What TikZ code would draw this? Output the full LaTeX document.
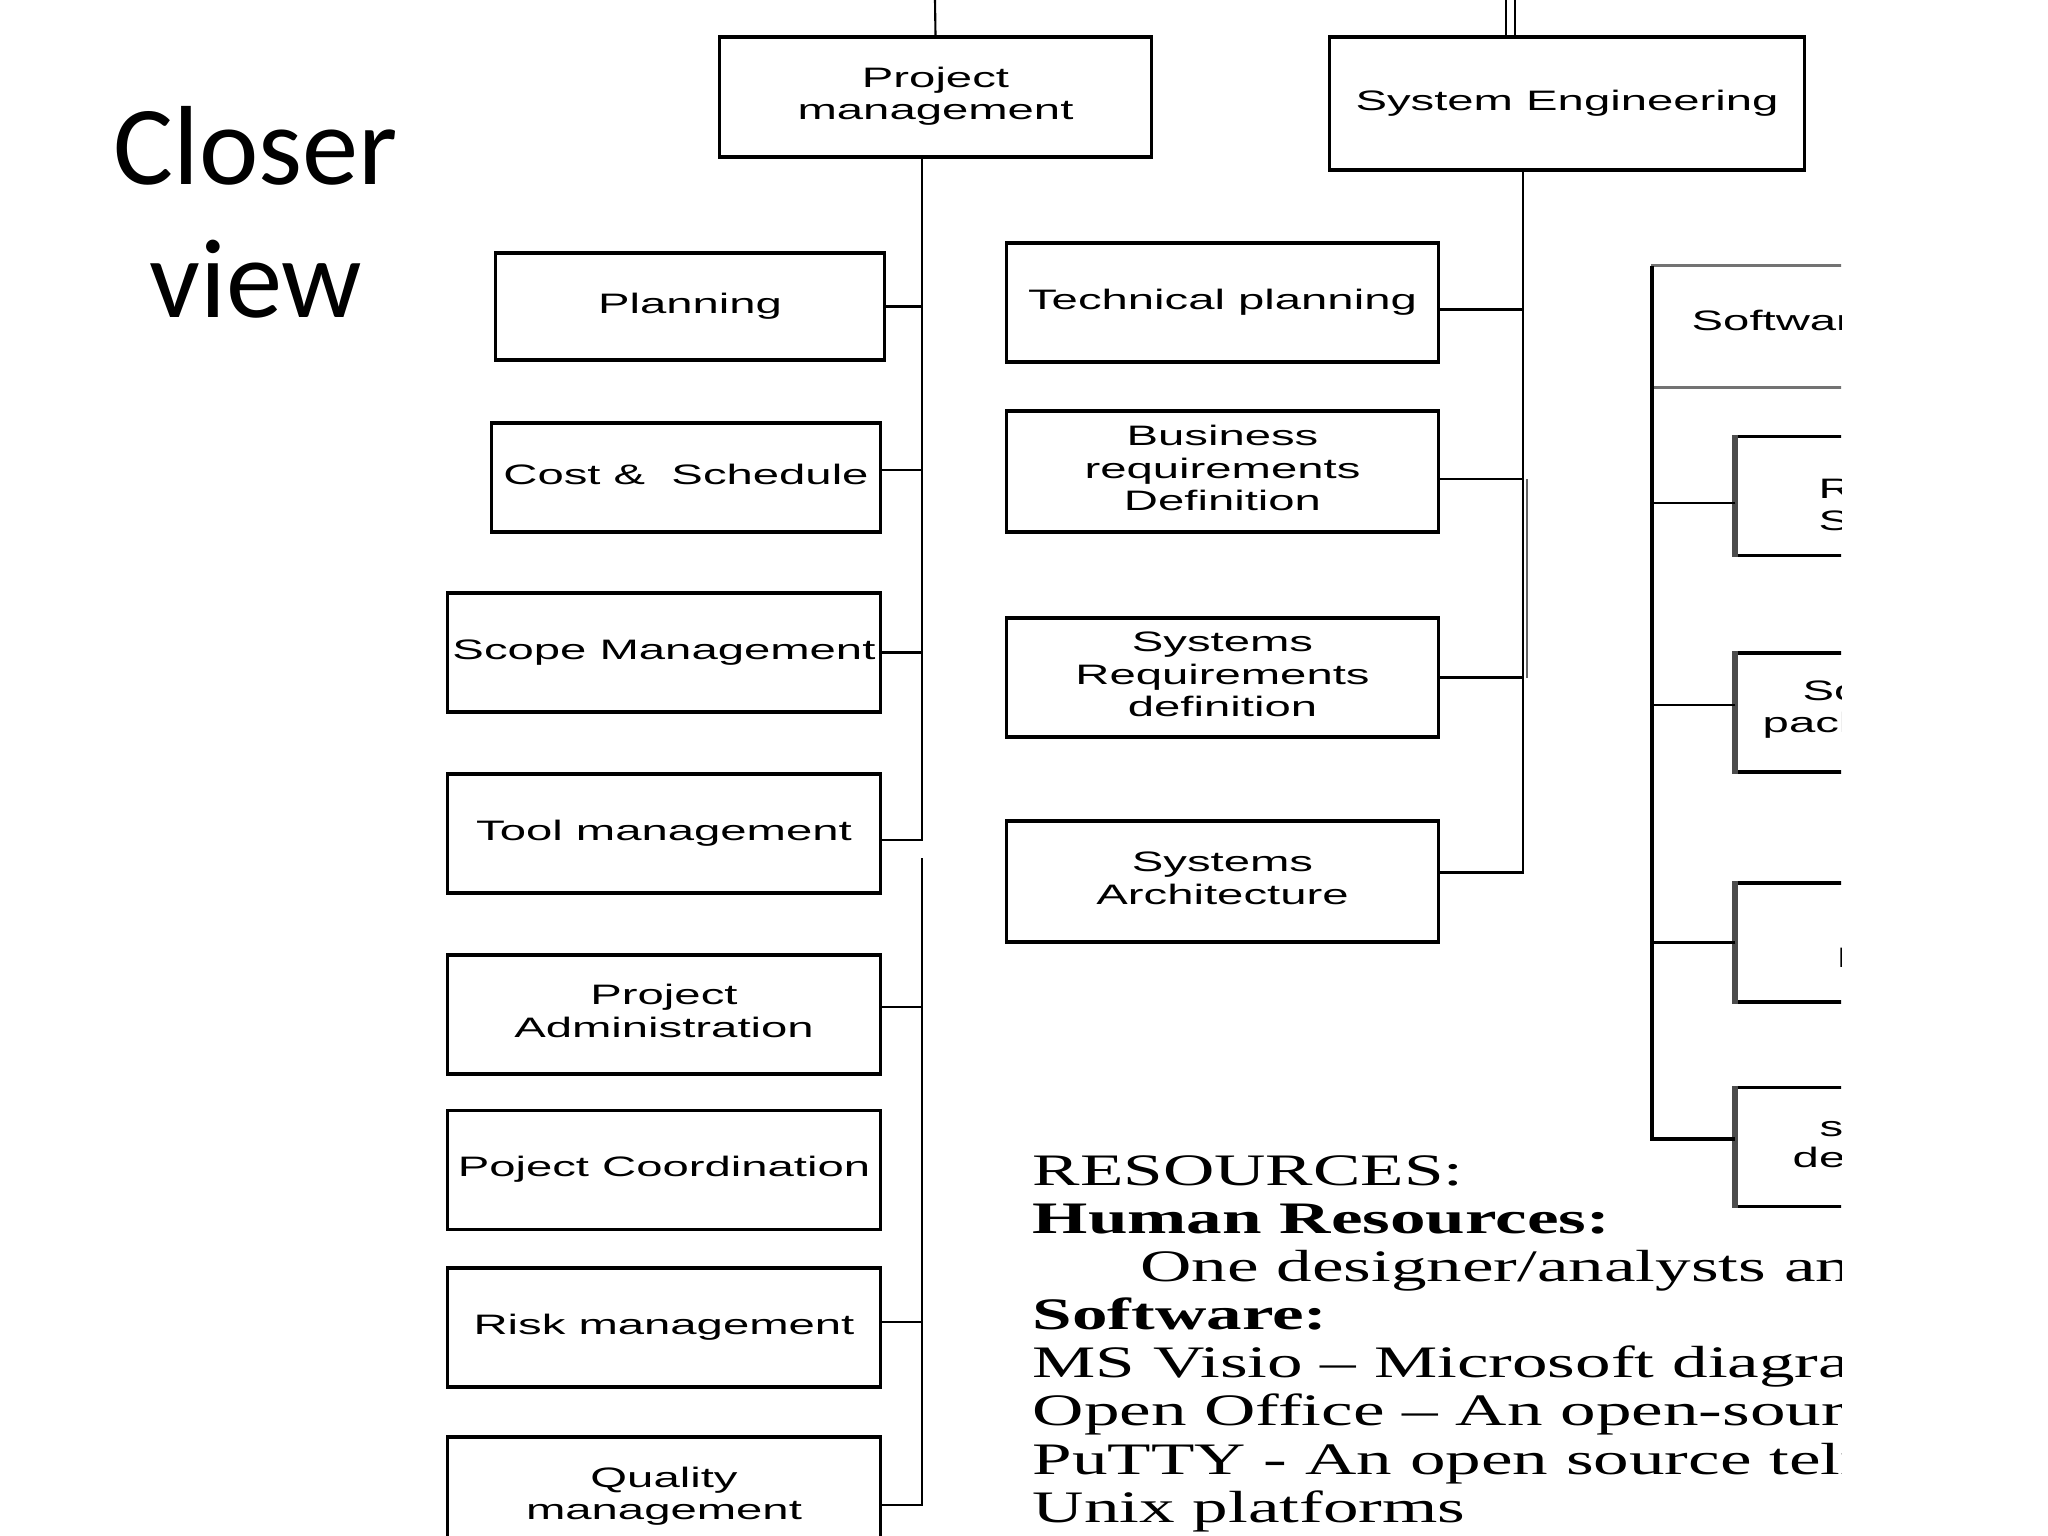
\documentclass[tikz,border=0pt]{standalone}
\usepackage{fontspec}
\usepackage{graphicx}
\setmainfont{Liberation Serif}
\newfontfamily\wbsfont{Liberation Sans}
\newfontfamily\slidefont{Carlito}
\newcommand\stretched[2][1.68]{\scalebox{#1}[1]{\begin{tabular}{@{}c@{}}#2\end{tabular}}}

\begin{document}
\begin{tikzpicture}[x=0.01cm,y=-0.01cm,
  wbs/.style={draw,line width=0.9pt,inner sep=0pt,
    minimum width=4.32cm,minimum height=1.19cm,
    font=\wbsfont\fontsize{8}{9.3}\selectfont},
  frag/.style={anchor=west,inner sep=0pt,font=\wbsfont\fontsize{8}{9.3}\selectfont},
  link/.style={line width=0.6pt}]
 \useasboundingbox (0,0) rectangle (2048,1536);
 \node[font=\slidefont\fontsize{32}{37.8}\selectfont,align=center]
    (title) at (256,212) {Closer\\view};
 \begin{scope}
 \clip (0,0) rectangle (1841,1536);
 % top level
 \node[wbs,minimum width=4.31cm,minimum height=1.20cm] (pm) at (935.5,97)
    {\stretched{Project\\management}};
 \node[wbs,minimum width=4.74cm,minimum height=1.33cm] (se) at (1567,103.5)
    {\stretched{System Engineering}};
 % project management column
 \node[wbs,minimum width=3.88cm,minimum height=1.07cm] (plan) at (690,306.5)
    {\stretched{Planning}};
 \node[wbs,minimum width=3.88cm,minimum height=1.09cm] (cost) at (686,477.5)
    {\stretched{Cost \&\ \ Schedule}};
 \node[wbs] (scope) at (664,652.5) {\stretched{Scope Management}};
 \node[wbs] (tool) at (664,833.5) {\stretched{Tool management}};
 \node[wbs] (admin) at (664,1014.5) {\stretched{Project\\Administration}};
 \node[wbs] (coord) at (664,1170) {\stretched{Poject Coordination}};
 \node[wbs] (risk) at (664,1327.5) {\stretched{Risk management}};
 \node[wbs,minimum height=1.20cm] (qual) at (664,1497)
    {\stretched{Quality\\management}};
 % system engineering column
 \node[wbs,minimum width=4.31cm] (tech) at (1222.5,302.5)
    {\stretched{Technical planning}};
 \node[wbs,minimum width=4.31cm,minimum height=1.21cm] (busi) at (1222.5,471.5)
    {\stretched{Business\\requirements\\Definition}};
 \node[wbs,minimum width=4.31cm] (sysreq) at (1222.5,677.5)
    {\stretched{Systems\\Requirements\\definition}};
 \node[wbs,minimum width=4.31cm,minimum height=1.21cm] (arch) at (1222.5,881.5)
    {\stretched{Systems\\Architecture}};
 % software column (cut off on the right)
 \node[minimum width=4.31cm,minimum height=1.21cm] (sw) at (1867.5,326.5) {};
 \draw[line width=0.8pt,black!55] (sw.north west) -- (sw.north east)
    (sw.south west) -- (sw.south east);
 \node[frag] (swtxt) at (1691,324) {\stretched{Software}};
 \node[wbs,minimum width=4.31cm] (rs) at (1952.5,496) {};
 \node[wbs,minimum width=4.31cm] (pk) at (1952.5,712.5) {};
 \node[wbs,minimum width=4.31cm] (ev) at (1952.5,942.5) {};
 \node[wbs,minimum width=4.31cm] (sd) at (1952.5,1147) {};
 \foreach \n in {rs,pk,ev,sd}
   \draw[line width=1.6pt,black!70] (\n.north west) -- (\n.south west);
 \node[frag] (rstxt1) at (1818,492) {\stretched{Requirements}};
 \node[frag] (rstxt2) at (1818,524) {\stretched{Specification}};
 \node[frag] (pktxt1) at (1802,694) {\stretched{Software}};
 \node[frag] (pktxt2) at (1762,726) {\stretched{packages}};
 \node[frag] (evtxt) at (1836,961) {\stretched{Evaluation}};
 \node[frag] (sdtxt1) at (1819,1130) {\stretched{software}};
 \node[frag] (sdtxt2) at (1792,1161) {\stretched{design}};
 % trunks
 \coordinate (pmtop) at (935,0);
 \coordinate (t1) at (922,157);
 \coordinate (t2) at (922,858);
 \coordinate (setopA) at (1506,0);
 \coordinate (setopB) at (1515,0);
 \coordinate (t3) at (1523,170);
 \coordinate (t4) at (1652,266);
 \draw[link] (pmtop) -- (pm.north);
 \draw[link] (setopA) -- (setopA |- se.north)
    (setopB) -- (setopB |- se.north);
 \draw[link] (t1) |- ([yshift=-0.65mm]tool.east);
 \draw[link] (plan.east) -- (plan.east -| t1);
 \draw[link] ([yshift=0.75mm]cost.east) -- ([yshift=0.75mm]cost.east -| t1);
 \draw[link] (scope.east) -- (scope.east -| t1);
 \draw[link] (t2) |- ([yshift=-0.8mm]qual.east);
 \draw[link] ([yshift=0.75mm]admin.east) -- ([yshift=0.75mm]admin.east -| t2);
 \draw[link] ([yshift=0.55mm]risk.east) -- ([yshift=0.55mm]risk.east -| t2);
 \draw[link] (t3) |- ([yshift=0.9mm]arch.east);
 \draw[link] ([yshift=-0.7mm]tech.east) -- ([yshift=-0.7mm]tech.east -| t3);
 \draw[link] ([yshift=-0.75mm]busi.east) -- ([yshift=-0.75mm]busi.east -| t3);
 \draw[link] (sysreq.east) -- (sysreq.east -| t3);
 \draw[link,black!60] ([xshift=0.4mm,yshift=-0.75mm]busi.east -| t3)
    -- ([xshift=0.4mm]sysreq.east -| t3);
 \draw[line width=1.3pt] (t4) |- ([yshift=0.8mm]sd.west);
 \draw[link] ([yshift=-0.7mm]rs.west) -- ([yshift=-0.7mm]rs.west -| t4);
 \draw[link] ([yshift=0.75mm]pk.west) -- ([yshift=0.75mm]pk.west -| t4);
 \draw[link] (ev.west) -- (ev.west -| t4);
 % resources
 \node[anchor=base west,inner sep=0pt,font=\fontsize{12.8}{13.7}\selectfont]
    (res) at (1032,1185) {\scalebox{1.58}[1]{\begin{tabular}[t]{@{}l@{}}
    RESOURCES:\\
    \textbf{Human Resources:}\\
    \hspace{0.68cm}One designer/analysts and\\
    \textbf{Software:}\\
    MS Visio -- Microsoft diagram\\
    Open Office -- An open-source\\
    PuTTY - An open source telnet\\
    Unix platforms
    \end{tabular}}};
 \end{scope}
\end{tikzpicture}
\end{document}
